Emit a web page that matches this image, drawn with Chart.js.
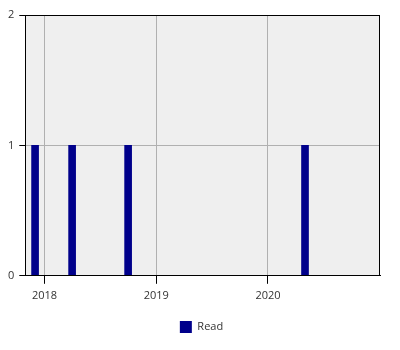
<!DOCTYPE html>
<html>
<head>
<meta charset="utf-8">
<script src="https://cdn.jsdelivr.net/npm/chart.js@4.4.1/dist/chart.umd.min.js"></script>
<style>
  html, body { margin: 0; padding: 0; background: #ffffff; }
  #wrap { width: 400px; height: 350px; }
</style>
</head>
<body>
<div id="wrap"><canvas id="myChart" width="400" height="350"></canvas></div>
<script>
// data
var dates = ["2017-12-01", "2018-04-01", "2018-10-01", "2020-05-01"];
var reads = [1, 1, 1, 1];
var yearTicks = ["2018", "2019", "2020"];
var axisStart = "2017-10-30";
var axisEnd = "2021-01-01";

var points = dates.map(function (d, i) {
    return { x: Date.parse(d), y: reads[i] };
});

var plotFrame = {
    id: "plotFrame",
    beforeDraw: function (chart) {
        var a = chart.chartArea, ctx = chart.ctx;
        ctx.save();
        ctx.fillStyle = "#efefef";
        ctx.fillRect(a.left, a.top, a.right - a.left, a.bottom - a.top);
        ctx.restore();
    },
    afterDraw: function (chart) {
        var a = chart.chartArea, ctx = chart.ctx;
        ctx.save();
        ctx.strokeStyle = "#000000";
        ctx.lineWidth = 1;
        ctx.strokeRect(Math.round(a.left) + 0.5, Math.round(a.top) + 0.5,
            Math.round(a.right - a.left) - 1, Math.round(a.bottom - a.top) - 1);
        ctx.restore();
    }
};

function showChart() {
    Chart.defaults.font.family = "'Open Sans', sans-serif";
    Chart.defaults.font.size = 11;
    Chart.defaults.color = "#333333";

    new Chart("myChart", {
        type: "bar",
        data: {
            datasets: [{
                label: "Read",
                data: points,
                backgroundColor: "#00008b",
                borderColor: "#00008b",
                borderWidth: 0,
                barThickness: 7
            }]
        },
        options: {
            responsive: false,
            animation: false,
            layout: { padding: { left: 3, right: 0, top: 15, bottom: 7 } },
            plugins: {
                legend: {
                    position: "bottom",
                    labels: { boxWidth: 12, boxHeight: 12, padding: 10 }
                },
                tooltip: { enabled: false }
            },
            scales: {
                x: {
                    type: "linear",
                    offset: false,
                    min: Date.parse(axisStart),
                    max: Date.parse(axisEnd),
                    afterBuildTicks: function (axis) {
                        axis.ticks = yearTicks.map(function (y) {
                            return { value: Date.parse(y + "-01-01") };
                        });
                    },
                    afterFit: function (axis) { axis.height += 4; },
                    ticks: {
                        autoSkip: false,
                        maxRotation: 0,
                        padding: 5,
                        callback: function (value, i) { return yearTicks[i]; }
                    },
                    grid: { color: "#b0b0b0", tickColor: "#000000", tickLength: 8, offset: false },
                    border: { color: "#000000" }
                },
                y: {
                    min: 0,
                    max: 2,
                    ticks: { stepSize: 1, padding: 5 },
                    grid: { color: "#b0b0b0", tickColor: "#000000", tickLength: 6 },
                    border: { color: "#000000" }
                },
                // empty right-hand strip so the legend stays centred on the page
                yRight: {
                    position: "right",
                    min: 0,
                    max: 2,
                    grid: { display: false, drawTicks: false },
                    border: { display: false },
                    ticks: { display: false },
                    afterFit: function (axis) { axis.width = 20; }
                }
            }
        },
        plugins: [plotFrame]
    });
}

window.addEventListener("load", showChart);
</script>
</body>
</html>
